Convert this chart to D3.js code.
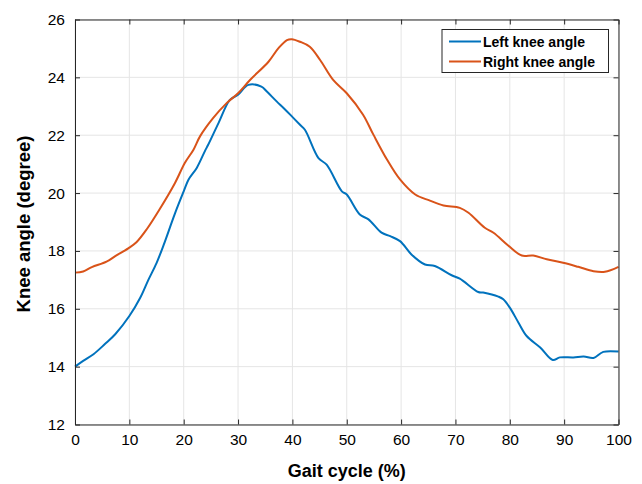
<!DOCTYPE html>
<html>
<head>
<meta charset="utf-8">
<script src="https://cdn.jsdelivr.net/npm/d3@7"></script>
<style>
  body { margin: 0; background: #fff; }
  text { font-family: "Liberation Sans", Arial, sans-serif; }
</style>
</head>
<body>
<div id="chart-area"></div>
<script>
// gait cycle (%) and knee angle (degree)
const leftX = [0, 1.5, 3.4, 5.5, 7.4, 10, 12, 13.5, 15, 16.3, 18.4, 20, 20.9, 22.4, 23.9, 24.5, 26.4, 28.5, 30, 31.9,
  34.3, 35.3, 37.1, 38.6, 39.9, 41.4, 42.3, 44.8, 46.3, 49.1, 50, 52.4, 54, 56.4, 58, 59.8, 61.9, 64.4, 66.2, 69.3,
  70.8, 74.2, 75.1, 77.9, 78.8, 80, 81.6, 83.1, 85.6, 87.9, 89.2, 91.7, 93.6, 95.4, 97.2, 100]
const leftY = [14.0, 14.2, 14.43, 14.78, 15.12, 15.75, 16.38, 17.0, 17.58, 18.2, 19.3, 20.06, 20.47, 20.87, 21.45, 21.67, 22.42, 23.22, 23.4, 23.74,
  23.68, 23.51, 23.17, 22.9, 22.65, 22.36, 22.19, 21.21, 20.98, 20.06, 19.95, 19.26, 19.09, 18.63, 18.51, 18.34, 17.88, 17.53, 17.48, 17.16,
  17.04, 16.58, 16.56, 16.42, 16.33, 16.04, 15.52, 15.06, 14.66, 14.23, 14.32, 14.32, 14.35, 14.3, 14.51, 14.52]

const rightX = [0, 1.5, 3.1, 5.8, 7.4, 9.8, 11.3, 13.2, 15.6, 18.4, 20.2, 21.8, 23, 25.4, 27.9, 30, 32.2, 35.6, 37.4,
  39, 39.9, 41.4, 43.2, 45.1, 47.5, 50, 53, 54.9, 57.4, 59.8, 62.6, 65.3, 67.8, 70.8, 72.4, 75.4, 77, 79.7, 82.2,
  84.3, 86.8, 89.8, 92.6, 95.4, 97.5, 100]
const rightY = [17.25, 17.29, 17.44, 17.63, 17.82, 18.09, 18.3, 18.75, 19.45, 20.35, 21.04, 21.5, 21.96, 22.59, 23.11, 23.45, 23.91, 24.54, 25.0,
  25.29, 25.32, 25.23, 25.06, 24.6, 23.91, 23.45, 22.71, 22.02, 21.16, 20.47, 19.95, 19.74, 19.57, 19.49, 19.32, 18.8, 18.63, 18.19, 17.84,
  17.84, 17.71, 17.59, 17.45, 17.3, 17.28, 17.45]

const xTicks = [0, 10, 20, 30, 40, 50, 60, 70, 80, 90, 100]
const yTicks = [12, 14, 16, 18, 20, 22, 24, 26]
const seriesNames = ["Left knee angle", "Right knee angle"]
const seriesColors = ["#0072BD", "#D95319"]

const svgWidth = 642
const svgHeight = 484
const margin = { left: 75, right: 23.5, top: 19.5, bottom: 59.5 }
const chartWidth = svgWidth - margin.left - margin.right
const chartHeight = svgHeight - margin.top - margin.bottom

const svg = d3.select("#chart-area")
            .append("svg")
            .attr("width", svgWidth)
            .attr("height", svgHeight)

const chart = svg.append("g")
            .attr("transform", `translate(${margin.left},${margin.top})`)

const x = d3.scaleLinear().domain([0, 100]).range([0, chartWidth])
const y = d3.scaleLinear().domain([12, 26]).range([chartHeight, 0])

// grid
chart.append("g")
    .selectAll("line")
    .data(xTicks)
    .join("line")
    .attr("x1", d => x(d)).attr("x2", d => x(d))
    .attr("y1", 0).attr("y2", chartHeight)
    .attr("stroke", "#e5e5e5")
chart.append("g")
    .selectAll("line")
    .data(yTicks)
    .join("line")
    .attr("y1", d => y(d)).attr("y2", d => y(d))
    .attr("x1", 0).attr("x2", chartWidth)
    .attr("stroke", "#e5e5e5")

// lines
const line = d3.line()
    .x(d => x(d[0]))
    .y(d => y(d[1]))
    .curve(d3.curveCatmullRom.alpha(0.5))

const series = [
    d3.zip(leftX, leftY),
    d3.zip(rightX, rightY)
]

chart.selectAll("path.series")
    .data(series)
    .join("path")
    .attr("class", "series")
    .attr("d", line)
    .attr("fill", "none")
    .attr("stroke", (d, i) => seriesColors[i])
    .attr("stroke-width", 2)

// axes, ticks pointing inward, box on
const axisColor = "#262626"
const xAxis = chart.append("g")
    .attr("transform", `translate(0,${chartHeight})`)
    .call(d3.axisBottom(x).tickValues(xTicks).tickSizeInner(-5).tickSizeOuter(0).tickPadding(9.5))
const xAxisTop = chart.append("g")
    .call(d3.axisTop(x).tickValues(xTicks).tickSizeInner(-5).tickSizeOuter(0).tickFormat(""))
const yAxis = chart.append("g")
    .call(d3.axisLeft(y).tickValues(yTicks).tickSizeInner(-5).tickSizeOuter(0).tickPadding(10))
const yAxisRight = chart.append("g")
    .attr("transform", `translate(${chartWidth},0)`)
    .call(d3.axisRight(y).tickValues(yTicks).tickSizeInner(-5).tickSizeOuter(0).tickFormat(""))

;[xAxis, xAxisTop, yAxis, yAxisRight].forEach(g => {
    g.select(".domain").attr("stroke", axisColor).attr("stroke-width", 1)
    g.selectAll(".tick line").attr("stroke", axisColor)
    g.selectAll(".tick text")
        .attr("fill", "#000")
        .style("font-size", "15.5px")
        .style("font-family", "'Liberation Sans', Arial, sans-serif")
})

// axis titles
svg.append("text")
    .attr("x", margin.left + chartWidth / 2)
    .attr("y", 477)
    .attr("text-anchor", "middle")
    .style("font-size", "18px")
    .style("font-weight", "bold")
    .text("Gait cycle (%)")

svg.append("text")
    .attr("transform", `translate(30,${margin.top + chartHeight / 2 + 2}) rotate(-90)`)
    .attr("text-anchor", "middle")
    .style("font-size", "18.5px")
    .style("font-weight", "bold")
    .text("Knee angle (degree)")

// legend
const legend = svg.append("g").attr("transform", "translate(442,29.5)")
legend.append("rect")
    .attr("width", 166.5)
    .attr("height", 43)
    .attr("fill", "#fff")
    .attr("stroke", axisColor)
    .attr("stroke-width", 1)

const item = legend.selectAll("g.item")
    .data(seriesNames)
    .join("g")
    .attr("class", "item")
    .attr("transform", (d, i) => `translate(0,${12 + i * 20})`)
item.append("line")
    .attr("x1", 7).attr("x2", 39)
    .attr("stroke", (d, i) => seriesColors[i])
    .attr("stroke-width", 2)
item.append("text")
    .attr("x", 41)
    .attr("dy", "0.36em")
    .style("font-size", "14px")
    .style("font-weight", "bold")
    .text(d => d)
</script>
</body>
</html>
